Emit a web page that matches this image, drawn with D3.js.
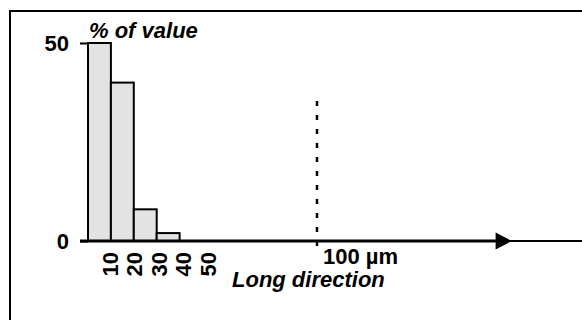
<!DOCTYPE html>
<html>
<head>
<meta charset="utf-8">
<script src="https://cdn.jsdelivr.net/npm/d3@7"></script>
<style>
body { margin:0; background:#fff; }
text { font-family: "Liberation Sans", Arial, sans-serif; font-weight: bold; }
</style>
</head>
<body>
<div id="chart"></div>
<script>
var width = 582;
var height = 320;

// histogram data (bin start in µm, % of value)
var binStarts = [0, 10, 20, 30];
var binValues = [50, 40, 8, 2];
var xTickLabels = [10, 20, 30, 40, 50];
var yTickLabels = [0, 50];
var scaleMark = 100;      // dashed "100 µm" marker
var arrowTip = 185;       // where the arrow head ends, in µm

var svg = d3.select("#chart")
            .append("svg")
            .attr("width", width)
            .attr("height", height);

var x = d3.scaleLinear().domain([0, 100]).range([88, 317]);
var y = d3.scaleLinear().domain([0, 50]).range([241, 43]);

// frame (only top and left visible)
svg.append("path")
    .attr("d", "M10,320 L10,11 L582,11")
    .attr("fill", "none")
    .attr("stroke", "#000")
    .attr("stroke-width", 2);

// bars
svg.selectAll("rect.bar")
    .data(binValues)
    .enter()
    .append("rect")
    .attr("class", "bar")
    .attr("x", function(d, i){ return x(binStarts[i]); })
    .attr("width", function(d, i){ return x(binStarts[i] + 10) - x(binStarts[i]); })
    .attr("y", function(d){ return y(d); })
    .attr("height", function(d){ return y(0) - y(d); })
    .attr("fill", "#e3e3e3")
    .attr("stroke", "#000")
    .attr("stroke-width", 2);

// y axis: ticks only
var yAxis = svg.append("g")
    .attr("transform", "translate(" + x(0) + ",0)")
    .call(d3.axisLeft(y).tickValues(yTickLabels).tickSize(8).tickPadding(11));
yAxis.select(".domain").remove();
yAxis.selectAll(".tick line").attr("stroke-width", 2);
yAxis.selectAll("text").attr("font-size", 22).attr("font-family", null).attr("fill", "#000");

// x axis line with arrow
var tipX = x(arrowTip);
svg.append("line")
    .attr("x1", tipX - 10).attr("x2", width)
    .attr("y1", y(0)).attr("y2", y(0))
    .attr("stroke", "#000").attr("stroke-width", 2);
svg.append("line")
    .attr("x1", x(0) - 8).attr("x2", tipX - 12)
    .attr("y1", y(0)).attr("y2", y(0))
    .attr("stroke", "#000").attr("stroke-width", 3);
svg.append("path")
    .attr("d", "M" + (tipX - 16) + "," + (y(0) - 8.5) + " L" + tipX + "," + y(0) + " L" + (tipX - 16) + "," + (y(0) + 8.5) + "Z")
    .attr("fill", "#000");

// rotated x tick labels
svg.selectAll("text.xtick")
    .data(xTickLabels)
    .enter()
    .append("text")
    .attr("class", "xtick")
    .attr("transform", function(d, i){ return "translate(" + (x(d) + 7 + i * 1.5) + ",252) rotate(-90)"; })
    .attr("text-anchor", "end")
    .attr("font-size", 22)
    .text(function(d){ return d; });

// dashed 100 µm marker
svg.append("line")
    .attr("x1", x(scaleMark)).attr("x2", x(scaleMark))
    .attr("y1", 101).attr("y2", 251)
    .attr("stroke", "#000")
    .attr("stroke-width", 2.5)
    .attr("stroke-dasharray", "5,9");

svg.append("text")
    .attr("x", x(scaleMark) + 6)
    .attr("y", 264)
    .attr("font-size", 22)
    .text(scaleMark + " µm");

// axis titles
svg.append("text")
    .attr("x", 89).attr("y", 38)
    .attr("font-size", 22)
    .attr("font-style", "italic")
    .text("% of value");

svg.append("text")
    .attr("x", 232).attr("y", 287)
    .attr("font-size", 22)
    .attr("font-style", "italic")
    .text("Long direction");
</script>
</body>
</html>
